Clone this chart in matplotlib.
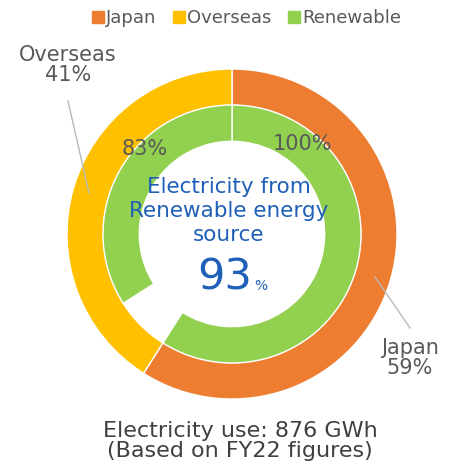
import matplotlib
matplotlib.use("Agg")
import matplotlib.pyplot as plt
from matplotlib.patches import Patch

# data
regions = ["Japan", "Overseas"]
shares = [59, 41]                 # % of electricity use
renewable_rate = [100, 83]        # % renewable within each region
total_renewable = 93
total_use = "876 GWh"

orange = "#ED7D31"
yellow = "#FFC000"
green = "#92D050"
grey = "#595959"
blue = "#1F5FB8"

plt.rcParams["font.family"] = ["DejaVu Sans"]

fig = plt.figure(figsize=(4.58, 4.61), dpi=100)
ax = fig.add_axes([0, 0, 1, 1])

# centre of ring at pixel (232, 234), outer radius 165 px
cx, cy, R = 232, 234, 165


def px(x, y):
    return (x - cx) / R, (cy - y) / R


# outer ring: share by region
ax.pie(shares, colors=[orange, yellow], radius=1.0, startangle=90,
       counterclock=False,
       wedgeprops=dict(width=0.22, edgecolor="white", linewidth=1))

# inner ring: renewable part of each region (Japan green, then overseas gap + green)
jp_ren = shares[0] * renewable_rate[0] / 100
ov_ren = shares[1] * renewable_rate[1] / 100
inner_vals = [jp_ren, shares[1] - ov_ren, ov_ren]
inner_cols = [green, "white", green]
ax.pie(inner_vals, colors=inner_cols, radius=129 / R, startangle=90,
       counterclock=False,
       wedgeprops=dict(width=0.22, edgecolor="white", linewidth=1))

ax.set_xlim(px(0, 0)[0], px(458, 0)[0])
ax.set_ylim(px(0, 461)[1], px(0, 0)[1])
ax.set_aspect("equal")
ax.axis("off")

# renewable rates
ax.text(*px(302, 144), f"{renewable_rate[0]}%", ha="center", va="center",
        fontsize=15, color=grey)
ax.text(*px(145, 149), f"{renewable_rate[1]}%", ha="center", va="center",
        fontsize=15, color=grey)

# region labels with leader lines
ax.text(*px(68, 65), f"{regions[1]}\n{shares[1]}%", ha="center", va="center",
        fontsize=15, color=grey, linespacing=1.05)
ax.plot(*zip(px(68, 101), px(89, 193)), color="#b8b8b8", lw=1)
ax.text(*px(410, 358), f"{regions[0]}\n{shares[0]}%", ha="center", va="center",
        fontsize=15, color=grey, linespacing=1.05)
ax.plot(*zip(px(375, 277), px(410, 328)), color="#b8b8b8", lw=1)

# centre text
ax.text(*px(229, 211), "Electricity from\nRenewable energy\nsource", ha="center",
        va="center", fontsize=15.5, color=blue, linespacing=1.25)
ax.text(*px(252, 277), f"{total_renewable}", ha="right", va="center",
        fontsize=31, color=blue)
ax.text(*px(254, 286), "%", ha="left", va="center", fontsize=10, color=blue)

# bottom caption
ax.text(*px(240, 441), f"Electricity use: {total_use}\n(Based on FY22 figures)",
        ha="center", va="center", fontsize=16, color="#404040", linespacing=0.95)

handles = [Patch(color=orange, label="Japan"),
           Patch(color=yellow, label="Overseas"),
           Patch(color=green, label="Renewable")]
leg = ax.legend(handles=handles, loc="upper center", bbox_to_anchor=(0.538, 1.015),
                ncol=3, frameon=False, fontsize=13, handlelength=0.7,
                handleheight=0.7, handletextpad=0.1, columnspacing=0.9)
for t in leg.get_texts():
    t.set_color(grey)

fig.savefig("out.png", dpi=100)
